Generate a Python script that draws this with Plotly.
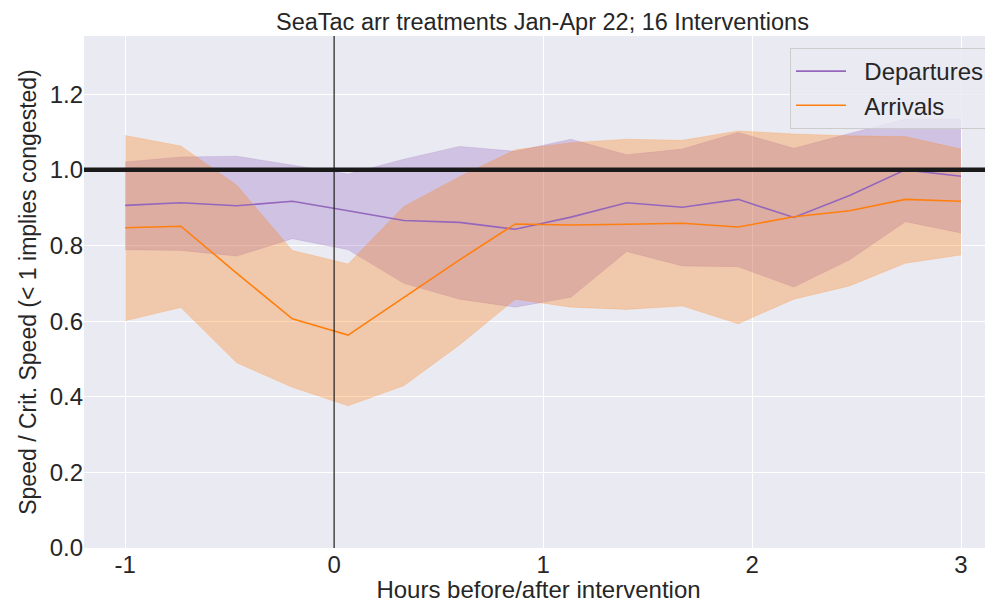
import plotly.graph_objects as go

hours = [-1 + i * 4 / 15 for i in range(16)]

dep_mean = [0.906, 0.913, 0.905, 0.917, 0.892, 0.866, 0.861, 0.843, 0.875, 0.913, 0.901, 0.922, 0.874, 0.932, 1.000, 0.983]
dep_upper = [1.021, 1.034, 1.036, 1.013, 0.989, 1.028, 1.062, 1.049, 1.081, 1.040, 1.055, 1.099, 1.057, 1.096, 1.134, 1.134]
dep_lower = [0.789, 0.787, 0.772, 0.818, 0.789, 0.700, 0.658, 0.637, 0.663, 0.784, 0.746, 0.744, 0.690, 0.762, 0.863, 0.833]

arr_mean = [0.847, 0.851, 0.727, 0.606, 0.563, 0.662, 0.762, 0.857, 0.854, 0.856, 0.859, 0.849, 0.876, 0.892, 0.922, 0.917]
arr_upper = [1.091, 1.063, 0.960, 0.787, 0.751, 0.903, 0.982, 1.053, 1.072, 1.081, 1.078, 1.103, 1.095, 1.090, 1.088, 1.055]
arr_lower = [0.601, 0.636, 0.490, 0.425, 0.376, 0.429, 0.537, 0.658, 0.637, 0.631, 0.640, 0.593, 0.658, 0.693, 0.753, 0.775]

x_ticks = [-1, 0, 1, 2, 3]
x_tick_text = ["-1", "0", "1", "2", "3"]
y_ticks = [0.0, 0.2, 0.4, 0.6, 0.8, 1.0, 1.2]

PURPLE = "#9467bd"
ORANGE = "#ff7f0e"
FONT = "Liberation Sans, Arial, sans-serif"
TXT = "#262626"
GAP = "\u00a0\u00a0"

series = [
    ("Departures", dep_mean, dep_lower, dep_upper, PURPLE, "rgba(148,103,189,0.3)"),
    ("Arrivals", arr_mean, arr_lower, arr_upper, ORANGE, "rgba(255,127,14,0.3)"),
]

fig = go.Figure()

# confidence bands first (under all lines)
for name, mean, lo, hi, col, fillc in series:
    fig.add_trace(go.Scatter(x=hours, y=lo, mode="lines", line=dict(width=0.6, color=fillc),
                             showlegend=False, hoverinfo="skip"))
    fig.add_trace(go.Scatter(x=hours, y=hi, mode="lines", line=dict(width=0.6, color=fillc),
                             fill="tonexty", fillcolor=fillc, showlegend=False, hoverinfo="skip"))

# mean lines on top
for name, mean, lo, hi, col, fillc in series:
    fig.add_trace(go.Scatter(x=hours, y=mean, mode="lines", name=GAP + name,
                             line=dict(width=1.6, color=col)))

fig.add_hline(y=1.0, line=dict(color="#1a1a1a", width=4.5))
fig.add_vline(x=0, line=dict(color="#1a1a1a", width=1.2))

fig.update_layout(
    width=985, height=595,
    margin=dict(l=76, r=0, t=28, b=55),
    paper_bgcolor="white",
    plot_bgcolor="#EAEAF2",
    font=dict(family=FONT, color=TXT, size=24),
    title=dict(text="SeaTac arr treatments Jan-Apr 22; 16 Interventions",
               x=0.5426, xref="container", xanchor="center",
               y=1 - 14 / 595, yref="container", yanchor="middle",
               font=dict(size=23.5, color=TXT, family=FONT)),
    legend=dict(x=0.9967, xanchor="right", y=0.9766, yanchor="top",
                bgcolor="rgba(234,234,242,0.8)", bordercolor="#cccccc", borderwidth=1,
                font=dict(size=24, color=TXT, family=FONT),
                traceorder="normal", itemwidth=50, tracegroupgap=0),
    xaxis=dict(range=[-1.197, 3.153], tickvals=x_ticks, ticktext=x_tick_text,
               showgrid=True, gridcolor="white", gridwidth=1.3, zeroline=False,
               showline=False, ticks="", tickfont=dict(size=24),
               title=dict(text="Hours before/after intervention", standoff=6,
                          font=dict(size=24))),
    yaxis=dict(range=[0, 1.354], tickvals=y_ticks, tickformat=".1f",
               showgrid=True, gridcolor="white", gridwidth=1.3, zeroline=False,
               showline=False, ticks="", tickfont=dict(size=24),
               title=dict(text="Speed / Crit. Speed (< 1 implies congested)", standoff=6,
                          font=dict(size=23))),
)

fig.write_html("out.html")
